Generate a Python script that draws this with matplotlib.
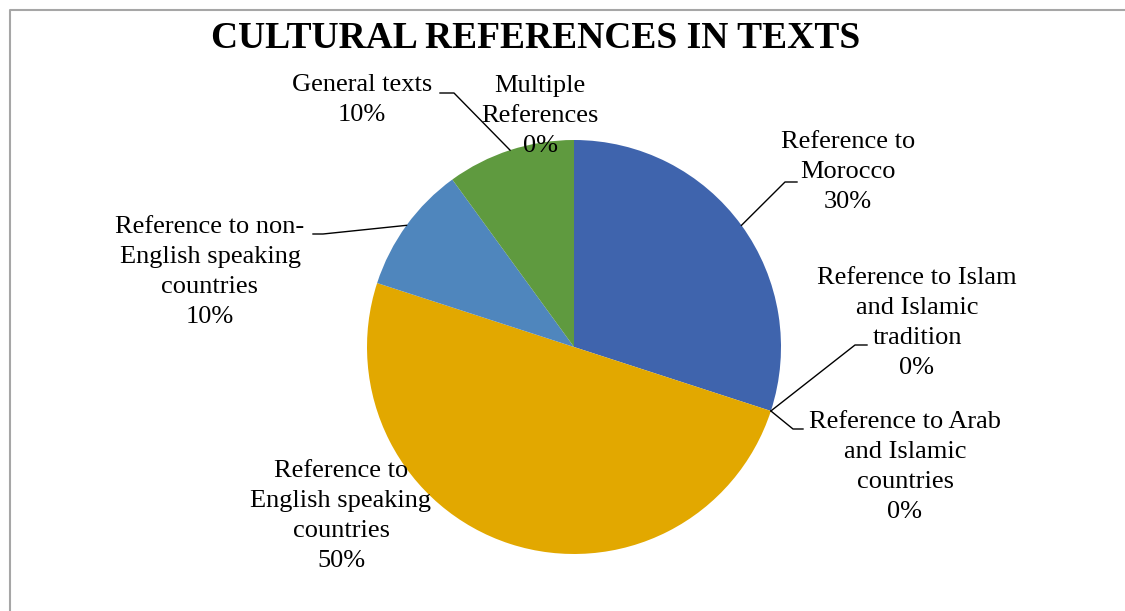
import numpy as np
import matplotlib
matplotlib.use('Agg')
import matplotlib.pyplot as plt

plt.rcParams['font.family'] = ['Liberation Serif', 'DejaVu Serif']

labels = ['Reference to\nMorocco', 'Reference to Islam\nand Islamic\ntradition',
          'Reference to Arab\nand Islamic\ncountries', 'Reference to\nEnglish speaking\ncountries',
          'Reference to non-\nEnglish speaking\ncountries', 'General texts', 'Multiple\nReferences']
shares = [30, 0, 0, 50, 10, 10, 0]
colors = ['#3F64AD', '#C0504D', '#9BBB59', '#E2A800', '#4F86BD', '#5F9A3F', '#8064A2']

W, H = 1125, 611
fig = plt.figure(figsize=(W / 100, H / 100), dpi=100)
ax = fig.add_axes([0, 0, 1, 1])

cx, cy, r = 574, H - 347, 207
wedges, _ = ax.pie(shares, colors=colors, startangle=90, counterclock=False,
                   center=(cx, cy), radius=r, wedgeprops=dict(linewidth=0))
ax.set_xlim(0, W)
ax.set_ylim(0, H)
ax.set_aspect('equal')
ax.axis('off')

# label centre (px), leader elbow and end (px) or None
layout = [
    ((848, 172), [(785, 182), (797, 182)]),
    ((917, 323), [(855, 345), (867, 345)]),
    ((905, 467), [(793, 429), (803, 429)]),
    ((341, 516), None),
    ((210, 272), [(323, 234), (313, 234)]),
    ((362, 100), [(454, 93), (440, 93)]),
    ((540, 116), None),
]

for w, lab, val, (pos, lead) in zip(wedges, labels, shares, layout):
    ax.text(pos[0], H - pos[1], f'{lab}\n{val}%', ha='center', va='center',
            multialignment='center', fontsize=19, linespacing=1.49, color='black')
    if lead:
        a = np.deg2rad((w.theta1 + w.theta2) / 2)
        xs = [cx + r * np.cos(a)] + [p[0] for p in lead]
        ys = [cy + r * np.sin(a)] + [H - p[1] for p in lead]
        ax.plot(xs, ys, color='black', lw=1)

ax.text(536, H - 38, 'CULTURAL REFERENCES IN TEXTS', ha='center', va='center',
        fontsize=27, fontweight='bold')

# chart border (only top and left edges show)
ax.plot([10, 10, W], [0, H - 10, H - 10], color='#A6A6A6', lw=1.5, clip_on=False)

fig.savefig('out.png', dpi=100)
